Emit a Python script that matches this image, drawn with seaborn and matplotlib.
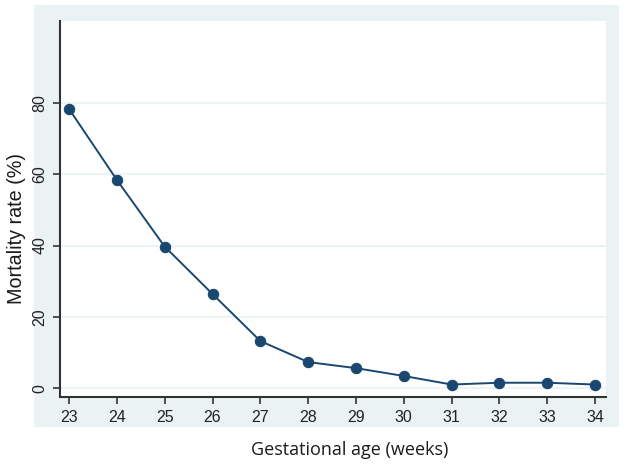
import numpy as np
import pandas as pd
import matplotlib
matplotlib.use('Agg')
import matplotlib.pyplot as plt
import seaborn as sns
from matplotlib.patches import Rectangle

# data
weeks = [23, 24, 25, 26, 27, 28, 29, 30, 31, 32, 33, 34]
mortality = [78.3, 58.4, 39.7, 26.4, 13.2, 7.3, 5.6, 3.4, 1.0, 1.5, 1.5, 1.0]
yticks = [0, 20, 40, 60, 80]

df = pd.DataFrame({'week': weeks, 'mortality': mortality})

sns.set_style('white')
plt.rcParams['font.family'] = ['Liberation Sans', 'DejaVu Sans']

navy = '#1a476f'
region = '#eaf2f3'

fig = plt.figure(figsize=(6.3, 4.69), dpi=100)
fig.patches.append(Rectangle((34 / 630, 1 - 427 / 469), (619 - 34) / 630, (427 - 5) / 469,
                             transform=fig.transFigure, facecolor=region, edgecolor='none', zorder=0))

ax = fig.add_axes([60 / 630, 1 - 397 / 469, (606 - 60) / 630, (397 - 21) / 469])
ax.set_facecolor('white')
ax.set_zorder(1)

for y in yticks:
    ax.axhline(y, color=region, lw=1.2, zorder=0)

sns.lineplot(data=df, x='week', y='mortality', ax=ax, color=navy, lw=1.4,
             marker='o', markersize=7.5, markeredgecolor=navy, markerfacecolor=navy)

ax.set_xlim(22.81, 34.23)
ax.set_ylim(-2.5, 103)
ax.set_xticks(weeks)
ax.set_yticks(yticks)
ax.set_xlabel('')
ax.set_ylabel('')
ax.tick_params(axis='both', direction='out', length=5, width=1.2, color='#333333',
               labelsize=11.5, labelcolor='#222222', left=True, bottom=True, pad=4)
for lab in ax.get_yticklabels():
    lab.set_rotation(90)
    lab.set_va('center')

for side in ['top', 'right']:
    ax.spines[side].set_visible(False)
for side in ['left', 'bottom']:
    ax.spines[side].set_color('#333333')
    ax.spines[side].set_linewidth(1.5)

fig.text(17 / 630, 1 - 228 / 469, 'Mortality rate (%)', rotation=90, ha='center', va='center',
         fontsize=14.2, color='#1a1a1a')
fig.text(350 / 630, 1 - 450 / 469, 'Gestational age (weeks)', ha='center', va='center',
         fontsize=13, color='#1a1a1a', family=['Open Sans', 'DejaVu Sans'])

fig.savefig('out.png', dpi=100)
